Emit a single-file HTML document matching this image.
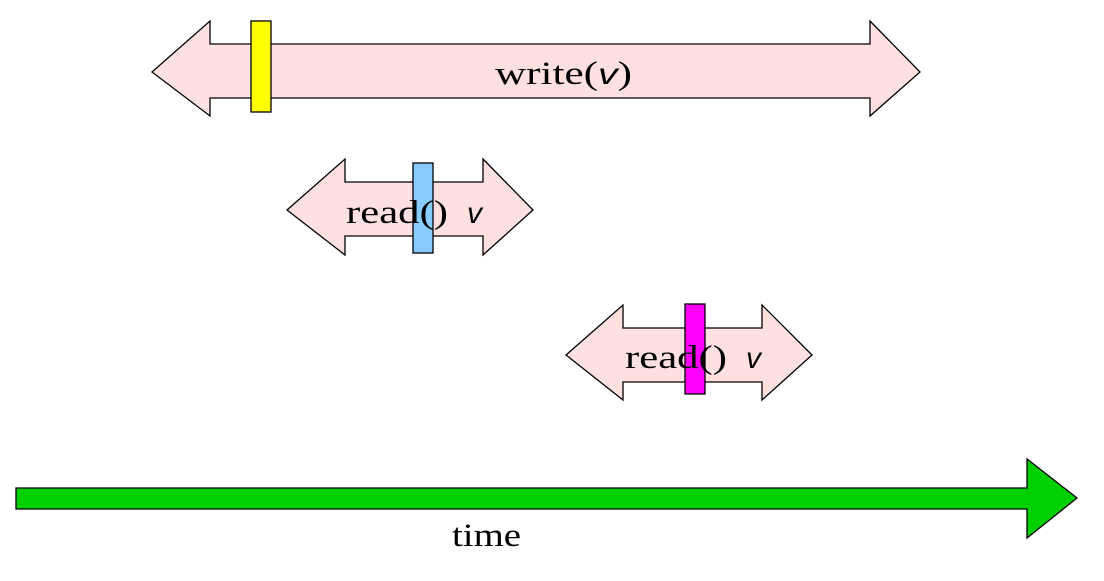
<!DOCTYPE html>
<html><head><style>html,body{margin:0;padding:0;background:#fff}</style></head>
<body>
<svg width="1104" height="576" xmlns="http://www.w3.org/2000/svg">
<g stroke="#000" stroke-width="1.3">
<polygon fill="#ffe0e0" points="152,72 210,21 210,44 870,44 870,21 920,72 870,116 870,98 210,98 210,116"/>
<rect x="251" y="21" width="20" height="91" fill="#ffff00"/>
<polygon fill="#ffe0e0" points="287,210 345,159 345,182 483,182 483,159 533,210 483,255 483,236 345,236 345,255"/>
<polygon fill="#ffe0e0" points="566,355 623,305 623,328 762,328 762,305 812,355 762,400 762,382 623,382 623,400"/>
<polygon fill="#00d000" points="16,488 1027,488 1027,459 1077,498 1027,538 1027,509 16,509"/>
<rect x="413" y="163" width="20" height="90" fill="#88ccff"/>
<rect x="685" y="304" width="20" height="90" fill="#ff00ff"/>
</g>
<g font-family="Liberation Serif, serif" font-size="33" fill="#000">
<text x="495" y="84" textLength="137" lengthAdjust="spacingAndGlyphs">write(<tspan font-family="Liberation Sans, sans-serif" font-style="italic" font-size="30">v</tspan>)</text>
<text x="346" y="223" textLength="102" lengthAdjust="spacingAndGlyphs">read()</text>
<text x="467" y="223" font-family="Liberation Sans, sans-serif" font-style="italic" font-size="30">v</text>
<text x="625" y="368" textLength="102" lengthAdjust="spacingAndGlyphs">read()</text>
<text x="746" y="368" font-family="Liberation Sans, sans-serif" font-style="italic" font-size="30">v</text>
<text x="452" y="546" textLength="69" lengthAdjust="spacingAndGlyphs">time</text>
</g>
</svg>
</body></html>
